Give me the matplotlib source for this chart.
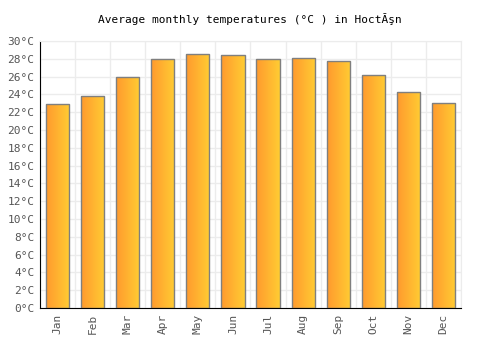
import matplotlib
matplotlib.use("Agg")
import matplotlib.pyplot as plt
import numpy as np
from matplotlib.colors import LinearSegmentedColormap

months = ["Jan", "Feb", "Mar", "Apr", "May", "Jun", "Jul", "Aug", "Sep", "Oct", "Nov", "Dec"]
temps = [22.9, 23.8, 25.9, 28.0, 28.5, 28.4, 28.0, 28.1, 27.7, 26.2, 24.3, 23.0]
yticks = list(range(0, 31, 2))
ytick_labels = [f"{t}°C" for t in yticks]
title = "Average monthly temperatures (°C ) in HoctĂşn"

fig = plt.figure(figsize=(5, 3.5), dpi=100)
ax = fig.add_axes([0.08, 0.12, 0.842, 0.763])

x = np.arange(len(months))
width = 0.66
cmap = LinearSegmentedColormap.from_list("g", ["#ff9a2e", "#ffcc33"])
grad = np.linspace(0, 1, 64).reshape(1, -1)

bars = ax.bar(x, temps, width=width, color="none", edgecolor="#7f7f7f", linewidth=1.0, zorder=3)
for b in bars:
    x0, y0 = b.get_x(), b.get_y()
    w, h = b.get_width(), b.get_height()
    im = ax.imshow(grad, cmap=cmap, aspect="auto", extent=(x0, x0 + w, y0, y0 + h), zorder=2)
    im.set_clip_path(b)

ax.set_xlim(-0.5, len(months) - 0.5)
ax.set_ylim(0, 30)
ax.set_yticks(yticks)
ax.set_yticklabels(ytick_labels)
ax.set_xticks(x)
ax.set_xticklabels(months, rotation=90)

ax.set_xticks(np.arange(-0.5, len(months), 1), minor=True)
ax.grid(True, which="minor", axis="x", color="#ececec", linewidth=1, zorder=0)
ax.grid(True, which="major", axis="y", color="#ececec", linewidth=1, zorder=0)
ax.set_axisbelow(True)

for lab in ax.get_xticklabels() + ax.get_yticklabels():
    lab.set_fontfamily("DejaVu Sans Mono")
    lab.set_fontsize(8)
    lab.set_color("#555555")
ax.tick_params(axis="both", which="both", length=0, pad=4)

ax.spines["left"].set_color("black")
ax.spines["bottom"].set_color("black")
ax.spines["top"].set_color("#ececec")
ax.spines["right"].set_color("#ececec")

fig.text(0.5, 0.947, title, ha="center", va="center", fontsize=8, family="DejaVu Sans Mono", color="black")

fig.savefig("out.png", dpi=100)
